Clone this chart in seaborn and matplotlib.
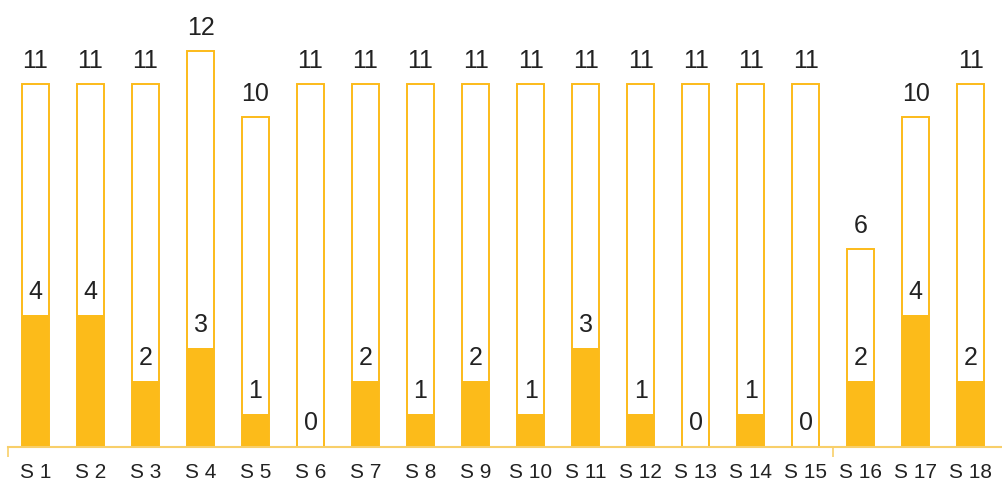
import matplotlib
matplotlib.use("Agg")
import matplotlib.pyplot as plt
import seaborn as sns
import numpy as np

# Data
categories = [f"S {i}" for i in range(1, 19)]
totals = [11, 11, 11, 12, 10, 11, 11, 11, 11, 11, 11, 11, 11, 11, 11, 6, 10, 11]
parts = [4, 4, 2, 3, 1, 0, 2, 1, 2, 1, 3, 1, 0, 1, 0, 2, 4, 2]

orange = "#FCBB1A"
axis_col = "#F8CF6A"

sns.set_theme(style="white")
plt.rcParams["font.family"] = ["Liberation Sans", "DejaVu Sans"]

fig = plt.figure(figsize=(10.02, 4.85), dpi=100)
ax = fig.add_axes([8 / 1002, 37 / 485, 994 / 1002, 448 / 485])

sns.barplot(x=categories, y=totals, color="white", edgecolor=orange,
            linewidth=1.4, width=0.5, ax=ax, saturation=1)
sns.barplot(x=categories, y=parts, color=orange, edgecolor=orange,
            linewidth=0, width=0.5, ax=ax, saturation=1)

for i, (t, p) in enumerate(zip(totals, parts)):
    ax.annotate(str(t), (i, t), xytext=(0, 9), textcoords="offset points",
                ha="center", va="bottom", fontsize=18, color="#222222")
    ax.annotate(str(p), (i, p), xytext=(0, 9), textcoords="offset points",
                ha="center", va="bottom", fontsize=18, color="#222222")

ax.set_xlim(-0.5, 17.57)
ax.set_ylim(0, 13.58)
ax.set_yticks([])
ax.set_xlabel("")
ax.set_ylabel("")
for s in ["top", "right", "left"]:
    ax.spines[s].set_visible(False)
ax.spines["bottom"].set_color(axis_col)
ax.spines["bottom"].set_linewidth(1.5)

ax.tick_params(axis="x", which="major", length=0, pad=11, labelsize=15,
               labelcolor="#222222")
ax.set_xticks([-0.5, 14.5], minor=True)
ax.tick_params(axis="x", which="minor", length=7, width=1.2, color=axis_col,
               direction="out", bottom=True)

fig.savefig("out.png", dpi=100)
